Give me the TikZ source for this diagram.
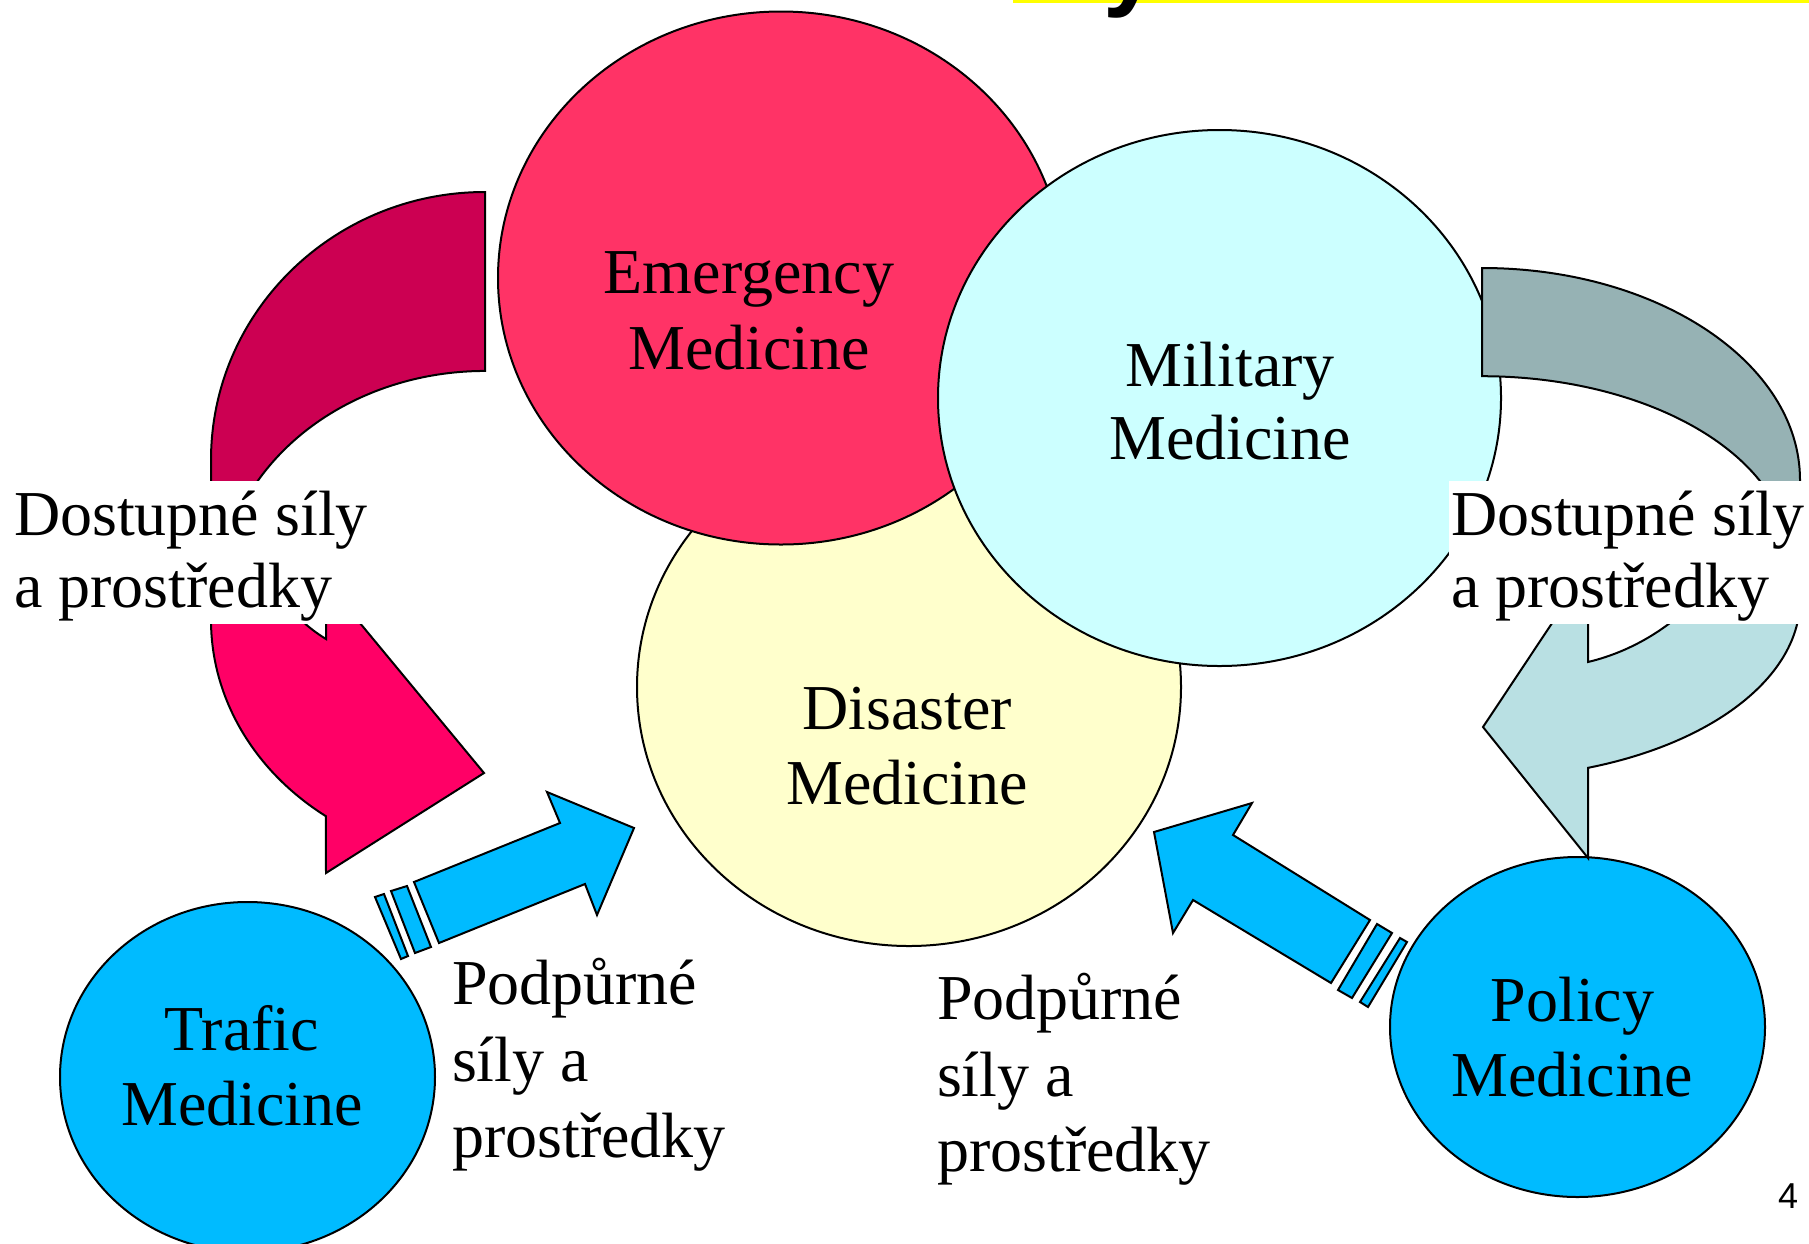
\documentclass[tikz,border=0pt]{standalone}
\usepackage{fontspec}
\setmainfont{Liberation Serif}
\newfontfamily\sansf{Liberation Sans}
\usetikzlibrary{shapes.geometric}
\definecolor{emerg}{HTML}{FF3366}
\definecolor{pinkdark}{HTML}{CC0052}
\definecolor{pinkbright}{HTML}{FF0066}
\definecolor{milcol}{HTML}{CCFFFF}
\definecolor{discol}{HTML}{FFFFCC}
\definecolor{bluecol}{HTML}{00BBFF}
\definecolor{graycol}{HTML}{96B2B4}
\definecolor{tealcol}{HTML}{B9E0E3}
\definecolor{titleyellow}{HTML}{FFFF00}
\newcommand\leftCurvedPath[1]{\path[#1] (485,-192) arc[start angle=90,end angle=180,x radius=274,y radius=268] -- (211,-620) arc[start angle=180,end angle=234.5,x radius=274,y radius=241] -- (326,-873) -- (484,-773) -- (326,-582) -- (326,-639) .. controls (270,-605) and (245,-540) .. (257,-482) arc[start angle=149,end angle=90,x radius=266,y radius=229] -- cycle;}
\newcommand\rightCurvedPath[1]{\path[#1] (1482,-268) arc[start angle=90,end angle=0,x radius=318,y radius=212] -- (1800,-600) arc[start angle=0,end angle=-70.5,x radius=318,y radius=178] -- (1588,-858) -- (1483,-727) -- (1588,-569) -- (1588,-662) .. controls (1680,-640) and (1745,-560) .. (1760,-481) arc[start angle=25.5,end angle=90,x radius=308,y radius=184] -- cycle;}
\begin{document}
\begin{tikzpicture}[x=1pt,y=1pt,line width=2pt,line join=miter,
  circ/.style={ellipse,draw=black,inner sep=0pt,line width=2pt},
  lbl/.style={inner sep=0pt,font=\fontsize{64}{76}\selectfont},
  whitebox/.style={fill=white,inner sep=0pt,anchor=north west},
  bluearrow/.style={draw=black,fill=bluecol,line width=2pt}]
\useasboundingbox (0,-1243) rectangle (1809,0);
\fill[white] (0,-1243) rectangle (1809,0);
% title remnants
\fill[titleyellow] (1013,0) rectangle (1809,-3);
\node[font=\sansf\bfseries\fontsize{100}{110}\selectfont,anchor=base west,inner sep=0pt] (ty) at (1102,3) {y};
% circles
\node[circ,fill=discol,minimum width=544pt,minimum height=518pt] (dis) at (909,-687) {};
\node[circ,fill=emerg,minimum width=566pt,minimum height=533pt] (em) at (781,-278) {};
\node[circ,fill=milcol,minimum width=563pt,minimum height=536pt] (mil) at (1219.5,-398) {};
\node[circ,fill=bluecol,minimum width=375pt,minimum height=340pt] (pol) at (1577.5,-1027) {};
\node[circ,fill=bluecol,minimum width=375pt,minimum height=350pt] (tra) at (247.5,-1077) {};
% left curved arrow
\leftCurvedPath{fill=pinkbright}
\begin{scope}
\clip (0,-540) rectangle (1809,0);
\leftCurvedPath{fill=pinkdark}
\end{scope}
\leftCurvedPath{draw=black}
% right curved arrow
\rightCurvedPath{fill=tealcol}
\begin{scope}
\clip (0,-540) rectangle (1809,0);
\rightCurvedPath{fill=graycol}
\end{scope}
\rightCurvedPath{draw=black}
% left blue arrow
\draw[bluearrow] (414,-882) -- (560,-823) -- (547,-792) -- (634,-828) -- (597,-915) -- (585,-884) -- (439,-943) -- cycle;
\draw[bluearrow] (391,-891) -- (407,-886) -- (431,-947) -- (415,-953) -- cycle;
\draw[bluearrow] (375,-897) -- (384,-894) -- (408,-956) -- (401,-959) -- cycle;
% right blue arrow
\draw[bluearrow] (1154,-832) -- (1252,-803) -- (1233,-835) -- (1370,-920) -- (1331,-983) -- (1193,-900) -- (1173,-933) -- cycle;
\draw[bluearrow] (1377,-924) -- (1392,-933) -- (1352,-998) -- (1338,-990) -- cycle;
\draw[bluearrow] (1400,-938) -- (1407,-942) -- (1368,-1007) -- (1360,-1002) -- cycle;
% white label boxes
\node[whitebox,minimum width=369pt,minimum height=143pt] (lbox) at (0,-480) {};
\node[whitebox,minimum width=361pt,minimum height=143pt] (rbox) at (1448,-480) {};
% texts
\node[lbl,anchor=base] (em1) at (749,-293) {Emergency};
\node[lbl,anchor=base] (em2) at (749,-369) {Medicine};
\node[lbl,anchor=base] (mi1) at (1230,-386.5) {Military};
\node[lbl,anchor=base] (mi2) at (1230,-459) {Medicine};
\node[lbl,anchor=base] (di1) at (907,-729) {Disaster};
\node[lbl,anchor=base] (di2) at (907,-804) {Medicine};
\node[lbl,anchor=base] (tr1) at (242,-1050) {Trafic};
\node[lbl,anchor=base] (tr2) at (242,-1125) {Medicine};
\node[lbl,anchor=base] (po1) at (1572.5,-1021) {Policy};
\node[lbl,anchor=base] (po2) at (1572.5,-1096) {Medicine};
\node[lbl,anchor=base west] (ld1) at (13,-535) {Dostupné síly};
\node[lbl,anchor=base west] (ld2) at (13,-607) {a prostředky};
\node[lbl,anchor=base west] (rd1) at (1450,-535) {Dostupné síly};
\node[lbl,anchor=base west] (rd2) at (1450,-607) {a prostředky};
\node[lbl,anchor=base west] (lp1) at (451,-1004) {Podpůrné};
\node[lbl,anchor=base west] (lp2) at (451,-1081) {síly a};
\node[lbl,anchor=base west] (lp3) at (451,-1157) {prostředky};
\node[lbl,anchor=base west] (rp1) at (936,-1019) {Podpůrné};
\node[lbl,anchor=base west] (rp2) at (936,-1096) {síly a};
\node[lbl,anchor=base west] (rp3) at (936,-1171) {prostředky};
\node[font=\sansf\fontsize{36}{40}\selectfont,anchor=base west,inner sep=0pt] (pg) at (1777,-1208) {4};
\end{tikzpicture}
\end{document}
